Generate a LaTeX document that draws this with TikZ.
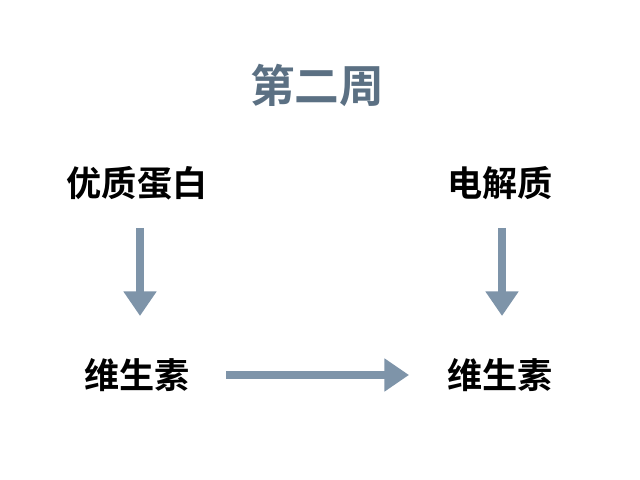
\documentclass[tikz,border=0pt]{standalone}
\usepackage{fontspec}
\newfontfamily\cjk{Noto Sans CJK SC}[BoldFont={Noto Sans CJK SC Bold}]
\usetikzlibrary{arrows.meta,positioning}
\definecolor{slate}{HTML}{5B7083}
\definecolor{steel}{HTML}{7E94A9}
\begin{document}
\begin{tikzpicture}[x=0.01cm,y=-0.01cm]
    \tikzstyle{item}=[font=\cjk\bfseries\fontsize{10pt}{12pt}\selectfont, inner sep=1pt]
    \tikzstyle{link}=[steel, line width=2pt, -{Triangle[length=7pt,width=9pt]}]
    \useasboundingbox (0,0) rectangle (640,480);

    % Title
    \node (title)[item, slate, font=\cjk\bfseries\fontsize{12.7pt}{14pt}\selectfont] at (317,85) {第二周};

    % Items
    \node (protein)[item] at (137,183) {优质蛋白};
    \node (electro)[item] at (500,183) {电解质};
    \node (vitL)[item] at (137,375) {维生素};
    \node (vitR)[item] at (500,375) {维生素};

    % Arrows
    \coordinate (a1) at (140,228); \coordinate (b1) at (140,316);
    \coordinate (a2) at (502,228); \coordinate (b2) at (502,316);
    \coordinate (a3) at (226,375); \coordinate (b3) at (409,375);
    \draw[link] (a1) -- (b1);
    \draw[link] (a2) -- (b2);
    \draw[link] (a3) -- (b3);
\end{tikzpicture}
\end{document}
